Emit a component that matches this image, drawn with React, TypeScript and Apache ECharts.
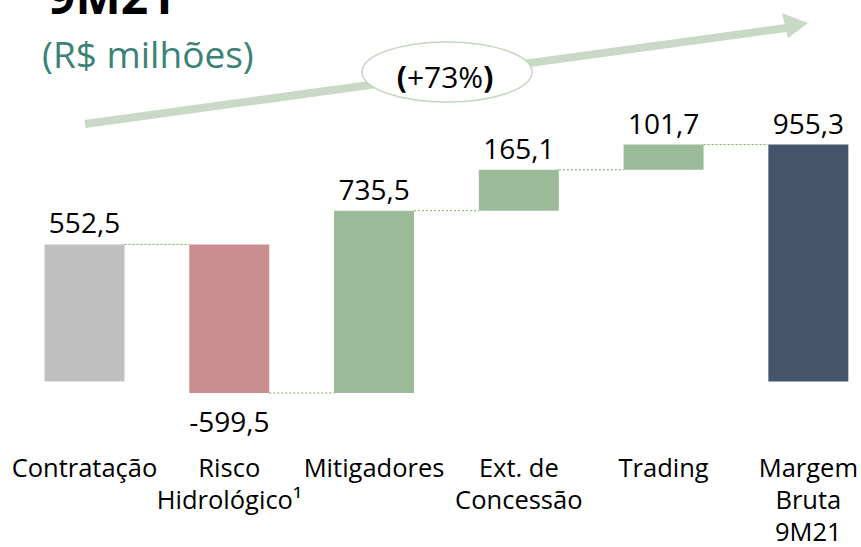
import React, { useEffect, useRef } from "react";
import * as echarts from "echarts";

const categories = [
  "Contratação",
  "Risco\nHidrológico¹",
  "Mitigadores",
  "Ext. de\nConcessão",
  "Trading",
  "Margem\nBruta\n9M21",
];
const deltas = [552.5, -599.5, 735.5, 165.1, 101.7, 955.3];
const isTotal = [true, false, false, false, false, true];
const growthLabel = "+73%";
const titleText = "9M21";
const unitText = "(R$ milhões)";

const barColors = ["#BFBFBF", "#C98D8E", "#9BBB98", "#9BBB98", "#9BBB98", "#44546A"];
const FONT = "'Open Sans', 'Noto Sans', sans-serif";

function fmt(v: number) {
  return v.toFixed(1).replace(".", ",");
}

export default function App() {
  const ref = useRef<HTMLDivElement>(null);
  useEffect(() => {
    if (!ref.current) return;
    const chart = echarts.init(ref.current, null, { renderer: "svg" });

    let running = 0;
    const items: any[] = [];
    deltas.forEach((d, i) => {
      let lo: number, hi: number;
      if (isTotal[i]) {
        lo = 0;
        hi = d;
        running = d;
      } else {
        lo = Math.min(running, running + d);
        hi = Math.max(running, running + d);
        running += d;
      }
      const level = i < deltas.length - 1 ? running : NaN;
      items.push([i, lo, hi, d, level]);
    });

    const option: any = {
      animation: false,
      grid: { left: 84.5, width: 724, top: 83.9, height: 347.2, containLabel: false },
      xAxis: {
        type: "category",
        data: categories,
        boundaryGap: false,
        axisLine: { show: false, onZero: false },
        axisTick: { show: false },
        splitLine: { show: false },
        axisLabel: {
          interval: 0,
          margin: 20,
          color: "#000",
          fontFamily: FONT,
          fontSize: 25.5,
          lineHeight: 32,
          verticalAlign: "top",
        },
      },
      yAxis: {
        type: "value",
        min: -200,
        max: 1200,
        show: false,
        splitLine: { show: false },
      },
      series: [
        {
          type: "custom",
          data: items,
          clip: false,
          renderItem: (params: any, api: any) => {
            const i = api.value(0);
            const lo = api.value(1);
            const hi = api.value(2);
            const d = api.value(3);
            const level = api.value(4);
            const top = api.coord([i, hi]);
            const bot = api.coord([i, lo]);
            const step = api.coord([1, 0])[0] - api.coord([0, 0])[0];
            const w = step * 0.5525;
            const x0 = top[0] - w / 2;
            const children: any[] = [
              {
                type: "rect",
                shape: { x: x0, y: top[1], width: w, height: bot[1] - top[1] },
                style: { fill: barColors[i] },
              },
            ];
            const neg = d < 0;
            children.push({
              type: "text",
              x: top[0],
              y: neg ? bot[1] + 14 : top[1] - 8,
              style: {
                text: fmt(d),
                fontFamily: FONT,
                fontSize: 28,
                fill: "#000",
                align: "center",
                verticalAlign: neg ? "top" : "bottom",
              },
            });
            if (!isNaN(level)) {
              const p = api.coord([i, level]);
              const pn = api.coord([i + 1, level]);
              children.push({
                type: "line",
                shape: { x1: p[0] + w / 2, y1: p[1], x2: pn[0] - w / 2, y2: p[1] },
                style: { stroke: "#70AD47", lineWidth: 1, lineDash: [2, 2] },
              });
            }
            return { type: "group", children };
          },
        },
      ],
      graphic: [
        {
          type: "text",
          x: 48,
          y: -5,
          style: {
            text: titleText,
            fontFamily: FONT,
            fontWeight: "bold",
            fontSize: 48,
            fill: "#000",
            verticalAlign: "middle",
          },
        },
        {
          type: "text",
          x: 42,
          y: 53,
          style: {
            text: unitText,
            fontFamily: FONT,
            fontSize: 37,
            fill: "#3B8277",
            verticalAlign: "middle",
          },
        },
        {
          type: "line",
          shape: { x1: 85, y1: 124, x2: 786, y2: 28 },
          style: { stroke: "#C8D9C5", lineWidth: 8 },
          z: 1,
        },
        {
          type: "polygon",
          shape: { points: [[782, 13], [808, 23], [788, 38]] },
          style: { fill: "#C8D9C5" },
          z: 1,
        },
        {
          type: "ellipse",
          shape: { cx: 447, cy: 72, rx: 85, ry: 30 },
          style: { fill: "#fff", stroke: "#C5D7C1", lineWidth: 1.5 },
          z: 2,
        },
        {
          type: "text",
          x: 445,
          y: 76,
          z: 3,
          style: {
            text: "{b|(}{n|" + growthLabel + "}{b|)}",
            align: "center",
            verticalAlign: "middle",
            rich: {
              b: { fontFamily: FONT, fontSize: 30, fontWeight: "bold", fill: "#000" },
              n: { fontFamily: FONT, fontSize: 30, fill: "#000" },
            },
          },
        },
      ],
    };
    chart.setOption(option);
    return () => chart.dispose();
  }, []);
  return (
    <div
      ref={ref}
      style={{ position: "fixed", left: 0, top: 0, width: 861, height: 547, background: "#fff" }}
    />
  );
}
